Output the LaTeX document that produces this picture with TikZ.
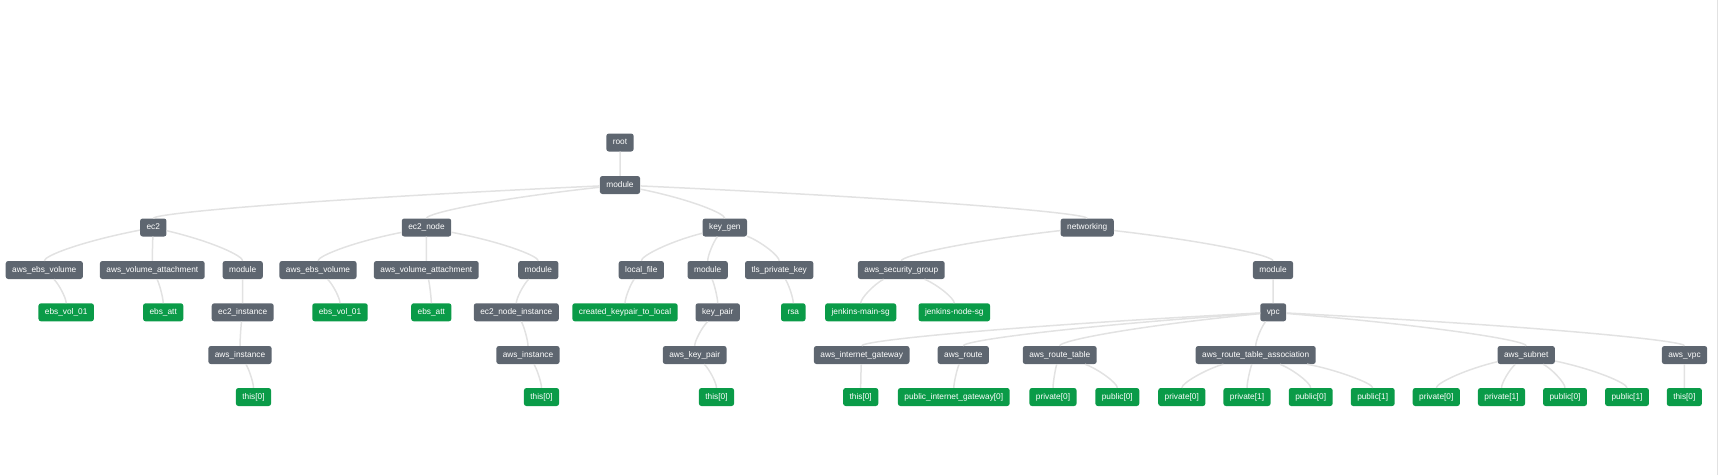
\documentclass[tikz,border=0pt]{standalone}
\usepackage{fontspec}
\setmainfont{Liberation Sans}
\usetikzlibrary{calc}
% curved link from a parent node down to a child node
\newcommand{\wire}[2]{%
  \draw[wire] let \p1=(#1.center), \p2=(#2.center) in
    (#1) .. controls ({\x1/3+2*\x2/3},{\y1+(\y2-\y1)/3}) and (\x2,{\y2+(\y1-\y2)/3}) .. (#2);}

\begin{document}
\begin{tikzpicture}[x=1pt,y=-1pt,
  mynode/.style={rounded corners=2.5pt, text=white, font=\fontsize{8.3}{9}\selectfont,
    text height=6pt, text depth=1.8pt,
    minimum height=18pt, inner xsep=6.5pt, inner ysep=0pt, anchor=center},
  grp/.style={mynode,fill=c1},
  leaf/.style={mynode,fill=c2},
  wire/.style={draw=c3, line width=1.5pt}]

% terraform graph colours
\definecolor{c1}{HTML}{5E6670}
\definecolor{c2}{HTML}{0A9B48}
\definecolor{c3}{HTML}{E2E2E2}

\useasboundingbox (0,0) rectangle (1718,475);
\draw[c3, line width=1pt] (1717.5,0) -- (1717.5,475);

\node [grp] at (620,142.5) (root) {root};
\node [grp] at (620,185) (mod) {module};
\node [grp] at (153.3,227.5) (ec2) {ec2};
\node [grp] at (426.5,227.5) (ec2node) {ec2\_node};
\node [grp] at (724.8,227.5) (keygen) {key\_gen};
\node [grp] at (1087.2,227.5) (networking) {networking};
%% ec2 module
\node [grp] at (44.3,270) (ebsvolA) {aws\_ebs\_volume};
\node [grp] at (152.3,270) (volattA) {aws\_volume\_attachment};
\node [grp] at (242.7,270) (modA) {module};
\node [leaf] at (66.2,312.3) (ebsvolidA) {ebs\_vol\_01};
\node [leaf] at (163.2,312.3) (ebsattA) {ebs\_att};
\node [grp] at (242.7,312.3) (ec2inst) {ec2\_instance};
\node [grp] at (240,355) (awsinstA) {aws\_instance};
\node [leaf] at (253.5,397) (thisA) {this[0]};
%% ec2_node module
\node [grp] at (318,270) (ebsvolB) {aws\_ebs\_volume};
\node [grp] at (426.3,270) (volattB) {aws\_volume\_attachment};
\node [grp] at (538.3,270) (modB) {module};
\node [leaf] at (340,312.3) (ebsvolidB) {ebs\_vol\_01};
\node [leaf] at (431.3,312.3) (ebsattB) {ebs\_att};
\node [grp] at (516.3,312.3) (ec2nodeinst) {ec2\_node\_instance};
\node [grp] at (528,355) (awsinstB) {aws\_instance};
\node [leaf] at (541.5,397) (thisB) {this[0]};
%% key_gen module
\node [grp] at (641.3,270) (localfile) {local\_file};
\node [grp] at (707.7,270) (modC) {module};
\node [grp] at (779.2,270) (tlskey) {tls\_private\_key};
\node [leaf] at (625,312.3) (created) {created\_keypair\_to\_local};
\node [grp] at (717.7,312.3) (keypair) {key\_pair};
\node [leaf] at (793.3,312.3) (rsa) {rsa};
\node [grp] at (694.7,355) (awskeypair) {aws\_key\_pair};
\node [leaf] at (716.5,397) (thisC) {this[0]};
%% networking module
\node [grp] at (901.3,270) (secgroup) {aws\_security\_group};
\node [grp] at (1273,270) (modD) {module};
\node [leaf] at (860.7,312.3) (jmain) {jenkins-main-sg};
\node [leaf] at (954.3,312.3) (jnode) {jenkins-node-sg};
\node [grp] at (1273.2,312.3) (vpc) {vpc};
%% here comes the vpc resources
\node [grp] at (861.7,355) (igw) {aws\_internet\_gateway};
\node [grp] at (963.3,355) (route) {aws\_route};
\node [grp] at (1059.7,355) (rtable) {aws\_route\_table};
\node [grp] at (1255.7,355) (rta) {aws\_route\_table\_association};
\node [grp] at (1526.2,355) (subnet) {aws\_subnet};
\node [grp] at (1684.5,355) (awsvpc) {aws\_vpc};
\node [leaf] at (860.7,397) (thisD) {this[0]};
\node [leaf] at (953.8,397) (pubigw) {public\_internet\_gateway[0]};
\node [leaf] at (1053,397) (rtpriv0) {private[0]};
\node [leaf] at (1117.3,397) (rtpub0) {public[0]};
\node [leaf] at (1181.8,397) (rtapriv0) {private[0]};
\node [leaf] at (1247,397) (rtapriv1) {private[1]};
\node [leaf] at (1310.7,397) (rtapub0) {public[0]};
\node [leaf] at (1372.7,397) (rtapub1) {public[1]};
\node [leaf] at (1436.3,397) (snpriv0) {private[0]};
\node [leaf] at (1501.5,397) (snpriv1) {private[1]};
\node [leaf] at (1565,397) (snpub0) {public[0]};
\node [leaf] at (1627,397) (snpub1) {public[1]};
\node [leaf] at (1684.3,397) (thisE) {this[0]};

\foreach \a/\b in {root/mod, mod/ec2, mod/ec2node, mod/keygen, mod/networking,
  ec2/ebsvolA, ec2/volattA, ec2/modA, ebsvolA/ebsvolidA, volattA/ebsattA,
  modA/ec2inst, ec2inst/awsinstA, awsinstA/thisA,
  ec2node/ebsvolB, ec2node/volattB, ec2node/modB, ebsvolB/ebsvolidB, volattB/ebsattB,
  modB/ec2nodeinst, ec2nodeinst/awsinstB, awsinstB/thisB,
  keygen/localfile, keygen/modC, keygen/tlskey, localfile/created, modC/keypair,
  keypair/awskeypair, awskeypair/thisC, tlskey/rsa,
  networking/secgroup, networking/modD, secgroup/jmain, secgroup/jnode, modD/vpc,
  vpc/igw, vpc/route, vpc/rtable, vpc/rta, vpc/subnet, vpc/awsvpc,
  igw/thisD, route/pubigw, rtable/rtpriv0, rtable/rtpub0,
  rta/rtapriv0, rta/rtapriv1, rta/rtapub0, rta/rtapub1,
  subnet/snpriv0, subnet/snpriv1, subnet/snpub0, subnet/snpub1, awsvpc/thisE}
  \wire{\a}{\b};
\end{tikzpicture}
\end{document}
